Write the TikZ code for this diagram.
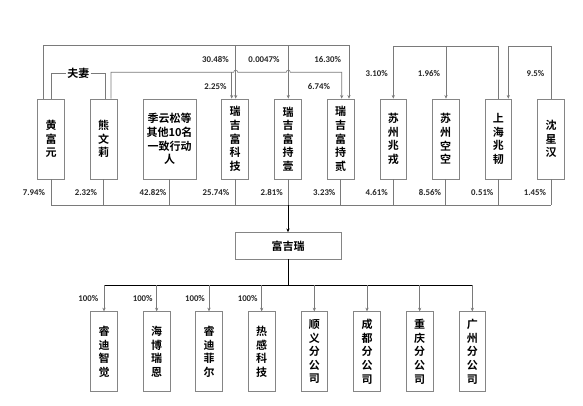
\documentclass[tikz,border=0pt]{standalone}
\usepackage{fontspec}
\newfontfamily\cjk{Noto Sans CJK SC}[BoldFont={Noto Sans CJK SC Bold}]
\newfontfamily\pctfont{Carlito}[BoldFont={Carlito Bold}]
\usetikzlibrary{arrows.meta}
\definecolor{lg}{HTML}{7A7A7A}
\definecolor{bg}{HTML}{858585}
\begin{document}
\begin{tikzpicture}[x=1pt,y=-1pt,
  box/.style={draw=bg, line width=0.7pt, inner sep=0pt, minimum width=26.5pt, minimum height=80pt, align=center, font=\cjk\bfseries\fontsize{11}{13.6}\selectfont},
  ln/.style={draw=lg, line width=0.6pt},
  arr/.style={ln, -{Stealth[length=3.6pt,width=3.2pt]}},
  stem/.style={draw=black, line width=0.8pt},
  pct/.style={font=\pctfont\bfseries\fontsize{8.8}{10}\selectfont, text=black!85, inner sep=0pt}]
\useasboundingbox (0,0) rectangle (583,406);
\coordinate (Ltop) at (0,45.7);
\coordinate (Lmid) at (0,72.3);
\coordinate (Rtop) at (0,46);
\coordinate (bus) at (0,205);
\coordinate (cbus) at (0,285);
% top row
\node[box] (huang) at (51,139) {黄\\富\\元};
\node[box] (xiong) at (103.7,139) {熊\\文\\莉};
\node[box, minimum width=53pt] (ji) at (169.5,139) {季云松等\\其他10名\\一致行动\\人};
\node[box] (rk) at (235,139) {瑞\\吉\\富\\科\\技};
\node[box] (r1) at (288,139) {瑞\\吉\\富\\持\\壹};
\node[box] (r2) at (340.7,139) {瑞\\吉\\富\\持\\贰};
\node[box] (sr) at (393.3,139) {苏\\州\\兆\\戎};
\node[box] (sk) at (445.7,139) {苏\\州\\空\\空};
\node[box] (sh) at (498.3,139) {上\\海\\兆\\韧};
\node[box] (sx) at (551,139) {沈\\星\\汉};
% middle
\node[box, minimum width=106pt, minimum height=26.5pt] (fjr) at (288,245.8) {富吉瑞};
% children
\node[box] (c1) at (104,351.7) {睿\\迪\\智\\觉};
\node[box] (c2) at (156.7,351.7) {海\\博\\瑞\\恩};
\node[box] (c3) at (209,351.7) {睿\\迪\\菲\\尔};
\node[box] (c4) at (261.7,351.7) {热\\感\\科\\技};
\node[box] (c5) at (314.3,351.7) {顺\\义\\分\\公\\司};
\node[box] (c6) at (367,351.7) {成\\都\\分\\公\\司};
\node[box] (c7) at (419.7,351.7) {重\\庆\\分\\公\\司};
\node[box] (c8) at (472.3,351.7) {广\\州\\分\\公\\司};
% spouse relation
\node[font=\cjk\bfseries\fontsize{11}{13}\selectfont, inner sep=1pt] (fq) at (78.3,73.3) {夫妻};
\draw[ln] ([xshift=0.7pt]huang.north) |- (fq.west);
\draw[ln] (fq.east) -| ([xshift=1.3pt]xiong.north);
% Huang's holdings (top line)
\draw[arr] ([xshift=-7.7pt]huang.north) |- ([xshift=8.3pt]r2.north |- Ltop) -- ([xshift=8.3pt]r2.north);
\draw[arr] ([xshift=0.7pt]rk.north |- Ltop) -- ([xshift=0.7pt]rk.north);
\draw[arr] ([xshift=0.3pt]r1.north |- Ltop) -- ([xshift=0.3pt]r1.north);
% Xiong's holdings (second line, with crossing bumps)
\draw[arr] ([xshift=7.3pt]xiong.north) |- ([xshift=-1.3pt]rk.north |- Lmid)
   .. controls +(0,-2.8) and +(0,-2.8) .. ++(4,0)
   -- ([xshift=-1.7pt]r1.north |- Lmid)
   .. controls +(0,-2.8) and +(0,-2.8) .. ++(4,0)
   -| ([xshift=1pt]r2.north);
\draw[arr] ([xshift=-3.3pt]rk.north |- Lmid) -- ([xshift=-3.3pt]rk.north);
% right group
\draw[arr] (sh.north) |- (sr.north |- Rtop) -- (sr.north);
\draw[arr] ([xshift=0.3pt]sk.north |- Rtop) -- ([xshift=0.3pt]sk.north);
\draw[arr] ([xshift=0.7pt]sx.north) |- ([xshift=10pt]sh.north |- Rtop) -- ([xshift=10pt]sh.north);
% top labels
\node[pct] (p1) at (215.5,59.3) {30.48\%};
\node[pct] (p2) at (264,59.3) {0.0047\%};
\node[pct] (p3) at (327.7,59.3) {16.30\%};
\node[pct] (p4) at (215.5,87) {2.25\%};
\node[pct] (p5) at (319,87) {6.74\%};
\node[pct] (p6) at (376.7,73.3) {3.10\%};
\node[pct] (p7) at (429,73.3) {1.96\%};
\node[pct] (p8) at (535.5,73.3) {9.5\%};
% bottom bus
\foreach \n in {huang,xiong,ji,rk,r1,r2,sr,sk,sh,sx}
  \draw[ln] (\n.south) -- (\n.south |- bus);
\draw[ln] (huang.south |- bus) -- (sx.south |- bus);
\node[pct] (b1) at (34,192.3) {7.94\%};
\node[pct] (b2) at (86,192.3) {2.32\%};
\node[pct] (b3) at (153,192.3) {42.82\%};
\node[pct] (b4) at (216,192.3) {25.74\%};
\node[pct] (b5) at (271.7,192.3) {2.81\%};
\node[pct] (b6) at (324.3,192.3) {3.23\%};
\node[pct] (b7) at (376.7,192.3) {4.61\%};
\node[pct] (b8) at (430,192.3) {8.56\%};
\node[pct] (b9) at (482.3,192.3) {0.51\%};
\node[pct] (b10) at (535,192.3) {1.45\%};
% main stem
\draw[stem, -{Stealth[length=3.8pt,width=3.4pt]}] (r1.south |- bus) -- (fjr.north);
\draw[stem] (fjr.south) -- (fjr.south |- cbus);
\draw[stem] (c1.north |- cbus) -- (c8.north |- cbus);
\foreach \n in {c1,c2,c3,c4,c5,c6,c7,c8}
  \draw[arr] (\n.north |- cbus) -- (\n.north);
\node[pct] (h1) at (88.3,298.3) {100\%};
\node[pct] (h2) at (142.7,298.3) {100\%};
\node[pct] (h3) at (195,298.3) {100\%};
\node[pct] (h4) at (247.7,298.3) {100\%};
\end{tikzpicture}
\end{document}
